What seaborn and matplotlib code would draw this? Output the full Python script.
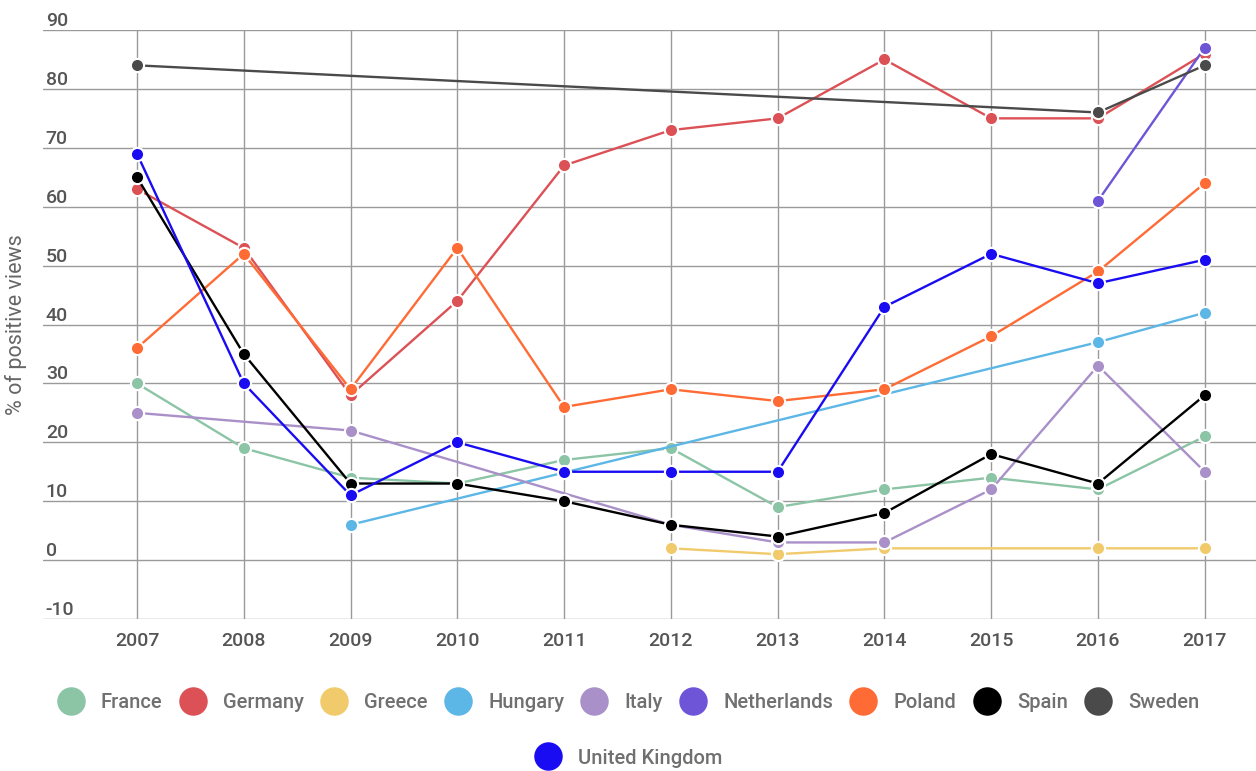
import pandas as pd
import matplotlib.pyplot as plt
import seaborn as sns
from matplotlib.lines import Line2D

# Dados (None = sem valor para o ano)
years = [2007, 2008, 2009, 2010, 2011, 2012, 2013, 2014, 2015, 2016, 2017]
countries = ["France", "Germany", "Greece", "Hungary", "Italy", "Netherlands",
             "Poland", "Spain", "Sweden", "United Kingdom"]
france = [30, 19, 14, 13, 17, 19, 9, 12, 14, 12, 21]
germany = [63, 53, 28, 44, 67, 73, 75, 85, 75, 75, 86]
greece = [None, None, None, None, None, 2, 1, 2, None, 2, 2]
hungary = [None, None, 6, None, None, None, None, None, None, 37, 42]
italy = [25, None, 22, None, None, 6, 3, 3, 12, 33, 15]
netherlands = [None, None, None, None, None, None, None, None, None, 61, 87]
poland = [36, 52, 29, 53, 26, 29, 27, 29, 38, 49, 64]
spain = [65, 35, 13, 13, 10, 6, 4, 8, 18, 13, 28]
sweden = [84, None, None, None, None, None, None, None, None, 76, 84]
uk = [69, 30, 11, 20, 15, 15, 15, 43, 52, 47, 51]

colors = ["#8cc4a6", "#dc5156", "#f1ca6b", "#5cb7e6", "#a990c9", "#6e55d8",
          "#ff6b35", "#000000", "#4a4a4a", "#1a0cf2"]

series = [france, germany, greece, hungary, italy, netherlands, poland, spain, sweden, uk]
rows = []
for name, vals in zip(countries, series):
    for y, v in zip(years, vals):
        rows.append({"year": y, "country": name, "value": v})
df = pd.DataFrame(rows).dropna(subset=["value"])

sns.set_theme(style="white")
plt.rcParams["font.family"] = ["Roboto", "DejaVu Sans"]
plt.rcParams["axes.unicode_minus"] = False

fig = plt.figure(figsize=(12.56, 7.71), dpi=100)
ax = fig.add_axes([43 / 1256, 1 - 619 / 771, 1 - 43 / 1256, (619 - 30) / 771])

palette = dict(zip(countries, colors))
sns.lineplot(data=df, x="year", y="value", hue="country", hue_order=countries,
             palette=palette, marker="o", markersize=9.5, markeredgecolor="white",
             markeredgewidth=1.5, linewidth=1.7, errorbar=None, legend=False, ax=ax)

ax.set_xlim(2006.12, 2017.48)
ax.set_ylim(-10, 90)
ax.set_xticks(years)
ax.set_yticks(range(-10, 91, 10))
ax.grid(True, color="#9a9a9a", linewidth=1.0)
ax.set_axisbelow(True)
for s in ax.spines.values():
    s.set_visible(False)

ax.tick_params(axis="x", length=0, pad=9, labelsize=14, labelcolor="#555555")
ax.tick_params(axis="y", length=0, pad=-2, labelsize=14, labelcolor="#555555")
for lab in ax.get_xticklabels() + ax.get_yticklabels():
    lab.set_fontweight("medium")
for lab in ax.get_yticklabels():
    lab.set_horizontalalignment("left")
    lab.set_verticalalignment("bottom")

ax.set_xlabel("")
ax.set_ylabel("% of positive views", fontsize=15.5, color="#666666")
ax.yaxis.set_label_coords(-0.013, 0.5)

# Legenda em duas linhas
handles = [Line2D([], [], marker="o", linestyle="", markersize=19.5,
                  markerfacecolor=c, markeredgecolor=c) for c in colors]
kw = dict(frameon=False, handlelength=1.4, handletextpad=0.8,
          columnspacing=0.8, labelcolor="#707070", loc="center",
          prop={"size": 14.5, "weight": "medium"})
fig.legend(handles[:9], countries[:9], ncol=9, bbox_to_anchor=(0.5, 1 - 703 / 771), **kw)
fig.legend(handles[9:], countries[9:], ncol=1, bbox_to_anchor=(0.5, 1 - 758 / 771), **kw)

plt.savefig("out.png", dpi=100)
